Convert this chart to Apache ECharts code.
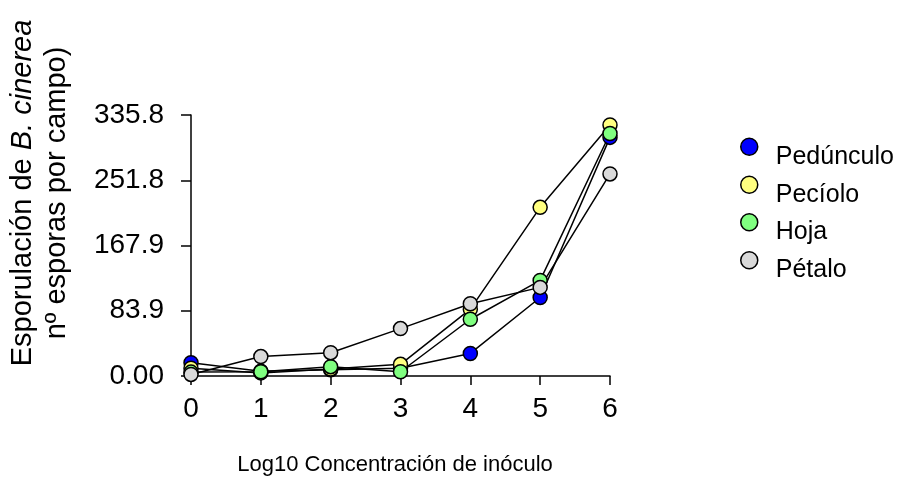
<!DOCTYPE html>
<html>
<head>
<meta charset="utf-8">
<script src="https://cdn.jsdelivr.net/npm/echarts@6/dist/echarts.min.js"></script>
<style>html,body{margin:0;padding:0;background:#fff}#c{width:903px;height:477px}</style>
</head>
<body>
<div id="c"></div>
<script>
var categories = [0, 1, 2, 3, 4, 5, 6];
var seriesNames = ['Pedúnculo', 'Pecíolo', 'Hoja', 'Pétalo'];
var pedunculo = [17, 6, 8, 10, 29, 101, 307];
var peciolo = [10, 4, 9, 15, 86, 217, 323];
var hoja = [5, 5.5, 12, 5.5, 73, 123, 312];
var petalo = [2, 25, 30, 61, 93, 114, 260];
var yTickLabels = ['0.00', '83.9', '167.9', '251.8', '335.8'];
var yMax = 335.8;
var colors = ['#0000FF', '#FFFF80', '#80FF80', '#D9D9D9'];

var FONT = '"Liberation Sans", Arial, sans-serif';
var allData = [pedunculo, peciolo, hoja, petalo];
var series = allData.map(function (vals, i) {
  return {
    name: seriesNames[i],
    type: 'line',
    data: categories.map(function (x, j) { return [x, vals[j]]; }),
    symbol: 'circle',
    symbolSize: 14,
    clip: false,
    itemStyle: { color: colors[i], borderColor: '#000', borderWidth: 1.5 },
    lineStyle: { color: '#000', width: 1.5 },
    emphasis: { disabled: true },
    animation: false
  };
});

var legendTops = [132.5, 170.5, 208, 246];
var legends = seriesNames.map(function (n, i) {
  return {
    orient: 'vertical', left: 735, top: legendTops[i],
    icon: 'circle', itemWidth: 17, itemHeight: 17,
    data: [n],
    selectedMode: false,
    itemStyle: { borderColor: '#000', borderWidth: 1.5 },
    formatter: '{t|{name}}',
    textStyle: {
      color: '#000', fontSize: 25, fontFamily: FONT,
      rich: { t: { color: '#000', fontSize: 25, fontFamily: FONT, padding: [20, 0, 0, 13] } }
    }
  };
});

var chart = echarts.init(document.getElementById('c'), null, { renderer: 'canvas' });
chart.setOption({
  animation: false,
  backgroundColor: '#fff',
  grid: { left: 191, right: 293, top: 115, bottom: 101 },
  xAxis: {
    type: 'value', min: 0, max: 6, interval: 1,
    axisLine: { show: true, lineStyle: { color: '#000', width: 1.5 } },
    axisTick: { show: true, length: 9, lineStyle: { color: '#000', width: 1.5 } },
    axisLabel: { color: '#000', fontSize: 28, fontFamily: FONT, margin: 19 },
    splitLine: { show: false }
  },
  yAxis: {
    type: 'value', min: 0, max: yMax, interval: yMax / 4, offset: 13,
    axisLine: { show: true, lineStyle: { color: '#000', width: 1.5 } },
    axisTick: { show: true, length: 10, lineStyle: { color: '#000', width: 1.5 } },
    axisLabel: {
      color: '#000', fontSize: 28, fontFamily: FONT, margin: 14,
      formatter: function (v) { return yTickLabels[Math.round(v / (yMax / 4))]; }
    },
    splitLine: { show: false }
  },
  legend: legends,
  graphic: [
    {
      type: 'text', x: 40, y: 193, rotation: Math.PI / 2,
      style: {
        text: '{a|Esporulación de }{i|B. cinerea}\n{a|nº esporas por campo)}',
        align: 'center', verticalAlign: 'middle', fill: '#000',
        rich: {
          a: { fontSize: 29, fontFamily: FONT, lineHeight: 34, fill: '#000' },
          i: { fontSize: 29, fontFamily: FONT, fontStyle: 'italic', lineHeight: 34, fill: '#000' }
        }
      }
    },
    {
      type: 'text', x: 395, y: 465,
      style: {
        text: 'Log10 Concentración de inóculo',
        fontSize: 22, fontFamily: FONT, fill: '#000',
        align: 'center', verticalAlign: 'middle'
      }
    }
  ],
  series: series
});
</script>
</body>
</html>
